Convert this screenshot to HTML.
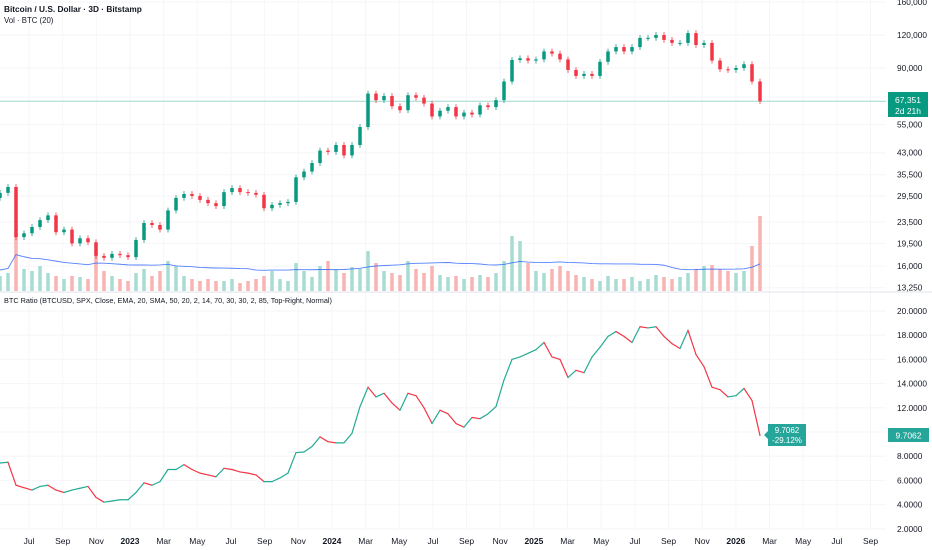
<!DOCTYPE html>
<html><head><meta charset="utf-8">
<style>
html,body{margin:0;padding:0;background:#fff;}
svg{display:block;font-family:"Liberation Sans",sans-serif;}
</style></head>
<body>
<svg id="chart" width="932" height="550" viewBox="0 0 932 550">
  <rect x="0" y="0" width="932" height="550" fill="#ffffff"/>
  <g id="grid"></g>
  <g id="vol"></g>
  <path id="volma" fill="none" stroke="#2962ff" stroke-width="0.9" opacity="0.8"/>
  <line x1="0" x2="886" id="lastline" stroke="#9fd9cf" stroke-width="1"/>
  <g id="candles"></g>
  <g id="ratio"></g>
  <line x1="0" x2="932" y1="292" y2="292" stroke="#e0e3eb" stroke-width="1"/>
  <g id="paxis" font-size="8.3" fill="#131722"></g>
  <g id="raxis" font-size="8.3" fill="#131722"></g>
  <g id="xaxis" font-size="8.5" fill="#131722"></g>
  <text x="4" y="12" font-size="8.3" font-weight="bold" fill="#131722">Bitcoin / U.S. Dollar · 3D · Bitstamp</text>
  <text x="4" y="23" font-size="7.8" fill="#131722">Vol · BTC (20)</text>
  <text x="4" y="303" font-size="7.3" fill="#131722">BTC Ratio (BTCUSD, SPX, Close, EMA, 20, SMA, 50, 20, 2, 14, 70, 30, 30, 2, 85, Top-Right, Normal)</text>
  <g>
    <rect x="888" y="92" width="40" height="25" fill="#089981"/>
    <text x="908" y="103" font-size="8.5" fill="#fff" text-anchor="middle">67,351</text>
    <text x="908" y="114" font-size="8.5" fill="#fff" text-anchor="middle">2d 21h</text>
  </g>
  <g>
    <path d="M768,424 H806 V446 H768 V439 L764,435 L768,431 Z" fill="#26a69a"/>
    <text x="787" y="433" font-size="8" fill="#fff" text-anchor="middle">9.7062</text>
    <text x="787" y="443" font-size="8" fill="#fff" text-anchor="middle">-29.12%</text>
  </g>
  <g>
    <rect x="888" y="428" width="41" height="14" fill="#26a69a"/>
    <text x="908.5" y="438.5" font-size="8.5" fill="#fff" text-anchor="middle">9.7062</text>
  </g>
</svg>
<script>
const closes = [30300,31900,20600,21300,22500,23900,24900,21500,22000,19500,20400,19700,17500,17200,17800,17600,
17300,20100,23300,22900,22000,26000,29000,30000,29500,28500,27700,27000,30500,31600,30500,30300,
29800,26500,27300,27700,28000,34700,36500,39300,43800,43300,46000,42000,46000,53800,72000,68000,
70500,64500,62300,71000,69500,66000,59000,62000,64000,59000,61000,60000,65000,64000,68000,80000,
96500,98000,96000,97000,104000,102000,97000,88500,84000,85500,84000,95000,104000,108000,104000,108000,
117000,117000,120000,115000,112000,112000,122000,110000,112000,96000,89000,88500,90000,93000,80000,67351];
const volumes = [15,18,58,22,20,25,18,15,12,15,14,12,41,20,15,12,
10,18,22,15,20,30,25,15,12,10,12,10,10,12,8,10,
12,15,20,12,10,28,20,14,25,30,22,18,24,22,40,28,
20,18,16,30,22,18,25,16,14,15,12,14,16,14,18,30,
55,50,28,20,18,22,25,20,16,14,12,10,15,12,12,14,
10,12,16,14,12,14,18,22,25,26,22,20,18,20,45,75];
const ratio = [7.44,7.5,5.6,5.4,5.2,5.5,5.6,5.2,5.0,5.2,5.35,5.5,4.6,4.2,4.3,4.4,
4.4,5.0,5.8,5.6,5.9,6.9,6.9,7.3,6.9,6.6,6.45,6.3,7.0,6.9,6.7,6.6,
6.45,5.9,5.9,6.2,6.6,8.3,8.35,8.8,9.6,9.2,9.1,9.1,9.9,12.1,13.7,12.9,
13.2,12.4,11.8,13.2,13.0,12.0,10.7,11.8,11.5,10.7,10.4,11.2,11.1,11.5,12.1,14.3,
16.0,16.2,16.5,16.8,17.4,16.2,16.0,14.5,15.1,14.9,16.2,17.0,17.9,18.3,17.9,17.4,
18.7,18.6,18.7,17.9,17.3,16.9,18.4,16.4,15.4,13.7,13.5,12.9,13.0,13.6,12.6,9.7062];
const priceTicks = [160000,120000,90000,70000,55000,43000,35500,29500,23500,19500,16000,13250];
const ratioTicks = [20,18,16,14,12,10,8,6,4,2];
const monthLabels = ["Jul","Sep","Nov","2023","Mar","May","Jul","Sep","Nov","2024","Mar","May","Jul","Sep","Nov","2025","Mar","May","Jul","Sep","Nov","2026","Mar","May","Jul","Sep"];

const NS="http://www.w3.org/2000/svg";
function mk(tag,attrs,parent){const e=document.createElementNS(NS,tag);for(const k in attrs)e.setAttribute(k,attrs[k]);parent.appendChild(e);return e;}
const xOf=i=>i*8;
const yP=p=>68-114.7*Math.log(p/90000);
const yR=v=>311+(20-v)*12.1;
const xMonth=k=>29+k*2*16.83;
const volBase=291, volScale=1;

const grid=document.getElementById('grid');
priceTicks.forEach(t=>{const l=mk('line',{x1:0,x2:886,y1:yP(t),y2:yP(t),stroke:'#f6f6f8','stroke-width':1},grid);

});
ratioTicks.forEach(t=>{const l=mk('line',{x1:0,x2:886,y1:yR(t),y2:yR(t),stroke:'#f6f6f8','stroke-width':1},grid);

});
monthLabels.forEach((m,k)=>{const l=mk('line',{x1:xMonth(k),x2:xMonth(k),y1:0,y2:530,stroke:'#f6f6f8','stroke-width':1},grid);

});

// volume
const vg=document.getElementById('vol');
volumes.forEach((v,i)=>{const o=i?closes[i-1]:29000;const up=closes[i]>=o;
const r=mk('rect',{x:xOf(i)-1.75,y:volBase-v*volScale,width:3.5,height:v*volScale,fill:up?'#a7dcd2':'#f8b4b2'},vg);

});
let d='';
volumes.forEach((v,i)=>{const s=volumes.slice(Math.max(0,i-19),i+1);const a=s.reduce((p,q)=>p+q,0)/s.length;
d+=(i?'L':'M')+xOf(i)+','+(volBase-a*volScale-6);});
document.getElementById('volma').setAttribute('d',d);

// last price line
const ll=document.getElementById('lastline');ll.setAttribute('y1',yP(closes[closes.length-1]));ll.setAttribute('y2',yP(closes[closes.length-1]));

// candles
const cg=document.getElementById('candles');
closes.forEach((c,i)=>{const o=i?closes[i-1]:29000;const up=c>=o;const col=up?'#089981':'#f23645';
const hi=Math.max(o,c)*1.025, lo=Math.min(o,c)*0.975;const x=xOf(i);
const w=mk('line',{x1:x,x2:x,y1:yP(hi),y2:yP(lo),stroke:col,'stroke-width':0.8},cg);


const top=Math.min(yP(o),yP(c));const h=Math.max(1,Math.abs(yP(o)-yP(c)));
const b=mk('rect',{x:x-1.75,y:top,width:3.5,height:h,fill:col},cg);

});

// ratio line
const rg=document.getElementById('ratio');
for(let i=1;i<ratio.length;i++){const up=ratio[i]>=ratio[i-1];
const s=mk('line',{x1:xOf(i-1),y1:yR(ratio[i-1]),x2:xOf(i),y2:yR(ratio[i]),stroke:up?'#22ab94':'#f23645','stroke-width':1.2,'stroke-linecap':'round'},rg);

}

// axes
const pa=document.getElementById('paxis');
priceTicks.forEach(t=>{const e=mk('text',{x:897,y:yP(t)+3},pa);e.textContent=t.toLocaleString('en-US');

});
const ra=document.getElementById('raxis');
ratioTicks.forEach(t=>{const e=mk('text',{x:897,y:yR(t)+3},ra);e.textContent=t.toFixed(4);

});
const xa=document.getElementById('xaxis');
monthLabels.forEach((m,k)=>{const e=mk('text',{x:xMonth(k),y:544,'text-anchor':'middle'},xa);e.textContent=m;
if(/^\d/.test(m))e.setAttribute('font-weight','bold');

});
</script>
</body></html>
